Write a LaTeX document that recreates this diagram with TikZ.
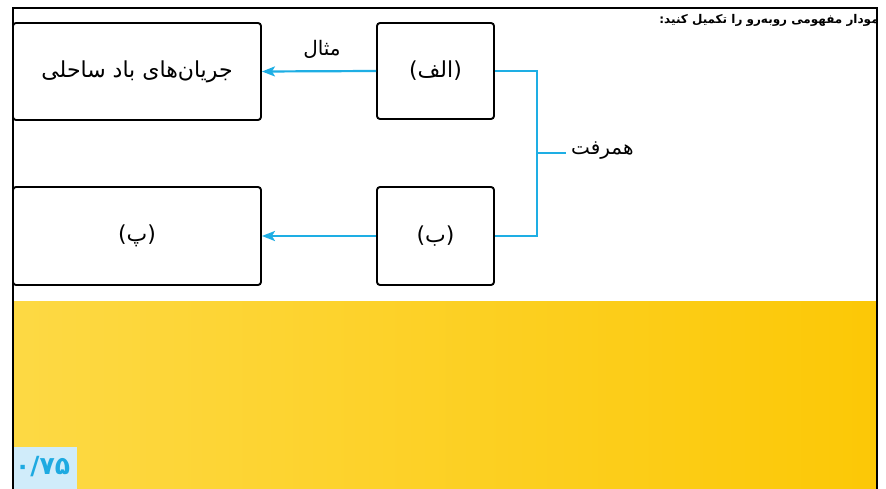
\documentclass[tikz,border=0pt]{standalone}
\usepackage{fontspec}
\usetikzlibrary{arrows.meta,calc}
\TeXXeTstate=1
\newfontfamily\arabicfont[Script=Arabic]{DejaVu Sans}
\definecolor{lineblue}{RGB}{30,174,228}
\definecolor{yelL}{RGB}{253,217,68}
\definecolor{yelR}{RGB}{252,200,6}
\definecolor{badgebg}{RGB}{208,236,250}
\definecolor{badgefg}{RGB}{30,170,225}
\begin{document}
\begin{tikzpicture}[x=1pt,y=-1pt,
  box/.style={draw=black,line width=1.9pt,rounded corners=3pt,inner sep=0pt},
  conn/.style={draw=lineblue,line width=2.2pt},
  arr/.style={conn,-{Stealth[length=13pt,width=10pt,inset=3pt]}},
  boxlbl/.style={inner sep=1pt,font=\arabicfont\fontsize{22}{26}\selectfont},
  lbl/.style={inner sep=1pt,font=\arabicfont\fontsize{20}{24}\selectfont},
  frame/.style={draw=black,line width=1.6pt}]
\useasboundingbox (0,0) rectangle (886,489);
\fill[white] (0,0) rectangle (886,489);
% yellow band
\shade[left color=yelL,right color=yelR] (13,301) rectangle (877,489);
\node[fill=badgebg,minimum width=64pt,minimum height=42pt,anchor=north west,inner sep=0pt] (badge) at (13,447) {};
\node[anchor=west,text=badgefg,inner sep=1pt,font=\arabicfont\bfseries\fontsize{25}{28}\selectfont] (score) at (14,467) {۰/۷۵};
% boxes
\node[box,minimum width=248pt,minimum height=97pt] (ex) at (137,71.5) {};
\node[boxlbl] (extext) at (ex.center) {\beginR جریان‌های باد ساحلی\endR};
\node[box,minimum width=248pt,minimum height=98pt] (p) at (137,236) {};
\node[boxlbl] (ptext) at (p.center) {\beginR (پ)\endR};
\node[box,minimum width=117pt,minimum height=96pt] (a) at (435.5,71) {};
\node[boxlbl] (atext) at (a.center) {\beginR (الف)\endR};
\node[box,minimum width=117pt,minimum height=98pt] (b) at (435.5,236) {};
\node[boxlbl] (btext) at (b.center) {\beginR (ب)\endR};
% connectors
\draw[arr] (a.west) -- (ex.east);
\draw[arr] (b.west) -- (p.east);
\node[lbl] (mesal) at (322,49) {\beginR مثال\endR};
\coordinate (jn) at (537,153);
\node[lbl,anchor=west] (ham) at (570,151) {\beginR همرفت\endR};
\coordinate (hamend) at (566,153);
\draw[conn] (a.east) -| (jn) |- (b.east);
\draw[conn] (jn) -- (hamend);
% title
\begin{scope}
\clip (0,0) rectangle (876,489);
\node[anchor=east,inner sep=0pt,font=\arabicfont\bfseries\fontsize{12}{15}\selectfont] (title) at (884,20) {\beginR نمودار مفهومی روبه‌رو را تکمیل کنید:\endR};
\end{scope}
% frame
\draw[frame] (13,489) -- (13,8) -- (877,8) -- (877,489);
\end{tikzpicture}
\end{document}
